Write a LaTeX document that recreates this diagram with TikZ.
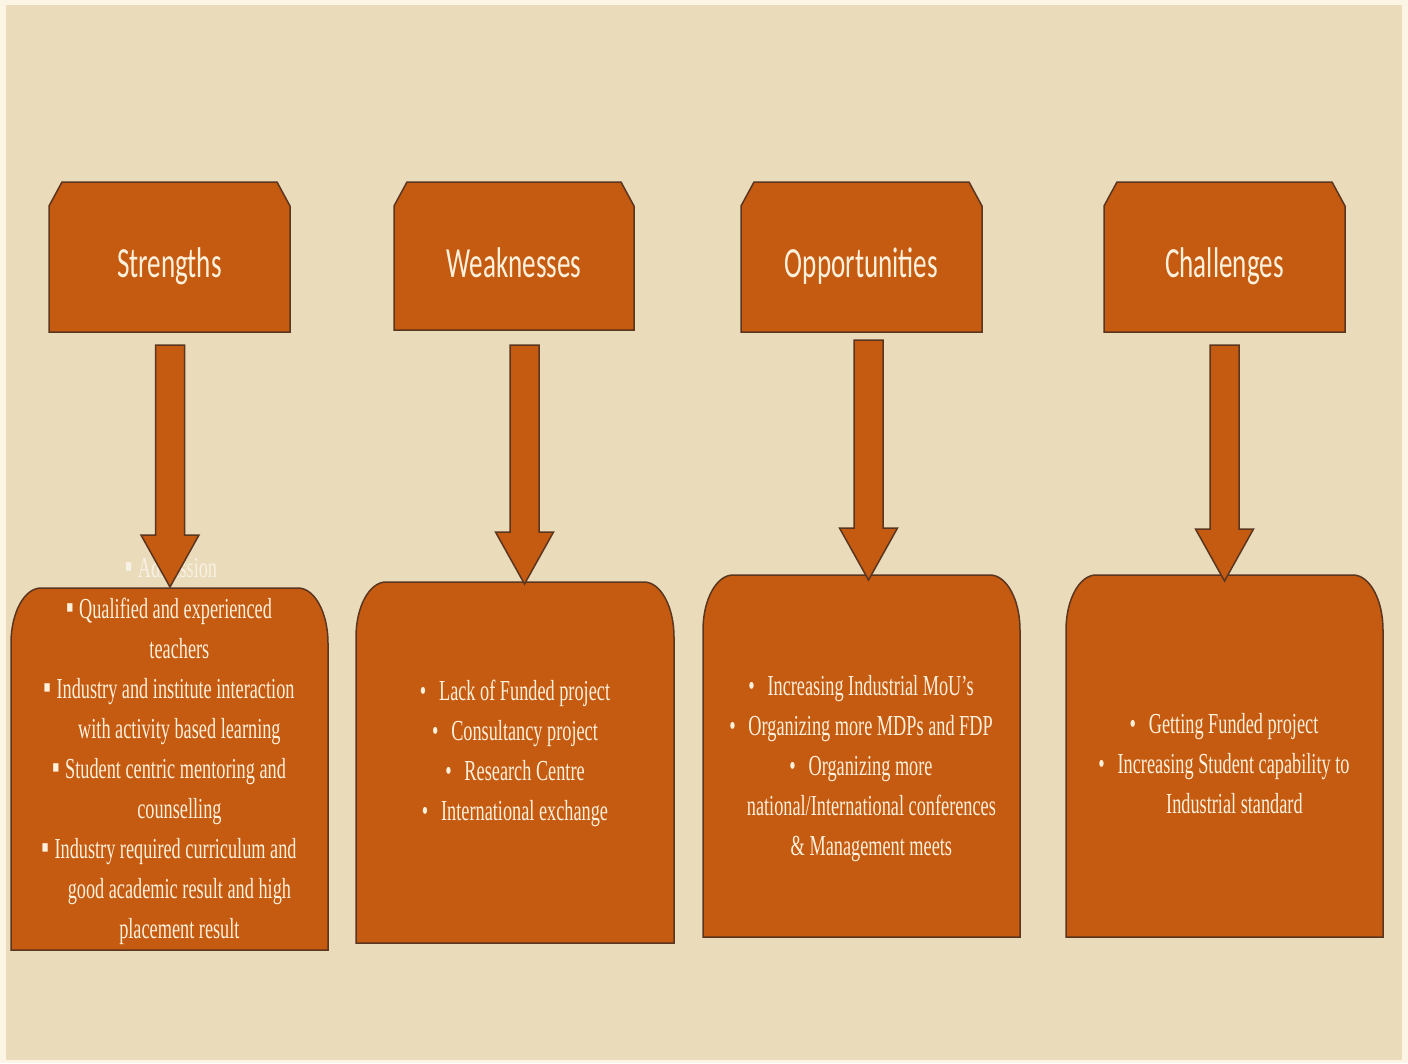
\documentclass[tikz,border=0pt]{standalone}
\usepackage{fontspec}
\setmainfont{Liberation Serif}
\newfontfamily\hdrfont{Carlito}
\usetikzlibrary{calc}
\definecolor{boxfill}{HTML}{C55A11}
\definecolor{boxline}{HTML}{5A3520}
\definecolor{txt}{HTML}{FDF1DC}
\definecolor{bgin}{HTML}{EADCBA}
\definecolor{bgout}{HTML}{FCF4E4}
\definecolor{ghost}{HTML}{F7F1E6}

\newcommand\sx[1]{\scalebox{0.63}[1]{#1}}
\newcommand\ind{\hspace*{33pt}}
\newcommand\sqb{{\fontsize{34}{40}\selectfont ▪}\hspace{0.3em}}
\newcommand\rdb{•\hspace{0.7em}}
\newcommand\bodytext[1]{\sx{\fontsize{29}{40}\selectfont\begin{tabular}{@{}c@{}}#1\end{tabular}}}

\tikzset{
  boxstyle/.style={fill=boxfill, draw=boxline, line width=1.5pt},
  hdrtext/.style={text=txt, inner sep=0pt, anchor=base, font=\hdrfont\fontsize{43}{48}\selectfont},
  bodynode/.style={text=txt, inner sep=0pt, anchor=center},
}

% header box: name, x1, y1, x2, y2, text
\newcommand\hdrbox[6]{%
  \filldraw[boxstyle] (#2,#5) -- (#2,#3+24) -- (#2+13,#3) -- (#4-13,#3) -- (#4,#3+24) -- (#4,#5) -- cycle;
  \node[hdrtext] (#1) at ({(#2+#4)/2},277) {\sx{#6}};
}
% bottom box: name, x1, y1, x2, y2
\newcommand\btmbox[5]{%
  \filldraw[boxstyle] (#2,#5) -- (#2,#3+55)
    arc[start angle=180, end angle=270, x radius=30, y radius=55]
    -- (#4-30,#3)
    arc[start angle=270, end angle=360, x radius=30, y radius=55]
    -- (#4,#5) -- cycle;
  \coordinate (#1) at ({(#2+#4)/2},#3);
}
% block arrow from top coordinate to tip coordinate
\newcommand\blockarrow[2]{%
  \filldraw[boxstyle] let \p1=(#1), \p2=(#2) in
    (\x1-14.5pt,\y1) -- (\x1+14.5pt,\y1) -- (\x1+14.5pt,\y2+52pt) -- (\x1+29pt,\y2+52pt)
    -- (\x2,\y2) -- (\x1-29pt,\y2+52pt) -- (\x1-14.5pt,\y2+52pt) -- cycle;
}

\begin{document}
\begin{tikzpicture}[x=1pt, y=-1pt]
\useasboundingbox (0,0) rectangle (1408,1063);
\fill[bgout] (0,0) rectangle (1408,1063);
\fill[bgin] (6,5) rectangle (1402,1060);

% partially hidden text behind the first arrow
\node[text=ghost, inner sep=0pt, anchor=base] (adm) at (171,577)
  {\sx{\fontsize{29}{40}\selectfont\sqb Admission}};

% bottom boxes
\btmbox{b1}{11}{588}{328}{950}
\btmbox{b2}{356}{582}{674}{943}
\btmbox{b3}{703}{575}{1020}{937}
\btmbox{b4}{1066}{575}{1383}{937}

% header boxes
\hdrbox{h1}{49}{182}{290}{332}{Strengths}
\hdrbox{h2}{394}{182}{634}{330}{Weaknesses}
\hdrbox{h3}{741}{182}{982}{332}{Opportunities}
\hdrbox{h4}{1104}{182}{1345}{332}{Challenges}

% arrows
\coordinate (a1) at (170,345);    \coordinate (t1) at (170,587);
\coordinate (a2) at (524.5,345);  \coordinate (t2) at (524.5,584);
\coordinate (a3) at (868.5,340);  \coordinate (t3) at (868.5,580);
\coordinate (a4) at (1224.5,345); \coordinate (t4) at (1224.5,581);
\blockarrow{a1}{t1}
\blockarrow{a2}{t2}
\blockarrow{a3}{t3}
\blockarrow{a4}{t4}

% texts in bottom boxes
\node[bodynode] (s1) at (169,770) {\bodytext{%
  \sqb Qualified and experienced\\
  \ind teachers\\
  \sqb Industry and institute interaction\\
  \ind with activity based learning\\
  \sqb Student centric mentoring and\\
  \ind counselling\\
  \sqb Industry required curriculum and\\
  \ind good academic result and high\\
  \ind placement result}};

\node[bodynode] (s2) at (515,752) {\bodytext{%
  \rdb Lack of Funded project\\
  \rdb Consultancy project\\
  \rdb Research Centre\\
  \rdb International exchange}};

\node[bodynode] (s3) at (861,767) {\bodytext{%
  \rdb Increasing Industrial MoU’s\\
  \rdb Organizing more MDPs and FDP\\
  \rdb Organizing more\\
  \ind national/International conferences\\
  \ind \& Management meets}};

\node[bodynode] (s4) at (1224,765) {\bodytext{%
  \rdb Getting Funded project\\
  \rdb Increasing Student capability to\\
  \ind Industrial standard}};
\end{tikzpicture}
\end{document}
